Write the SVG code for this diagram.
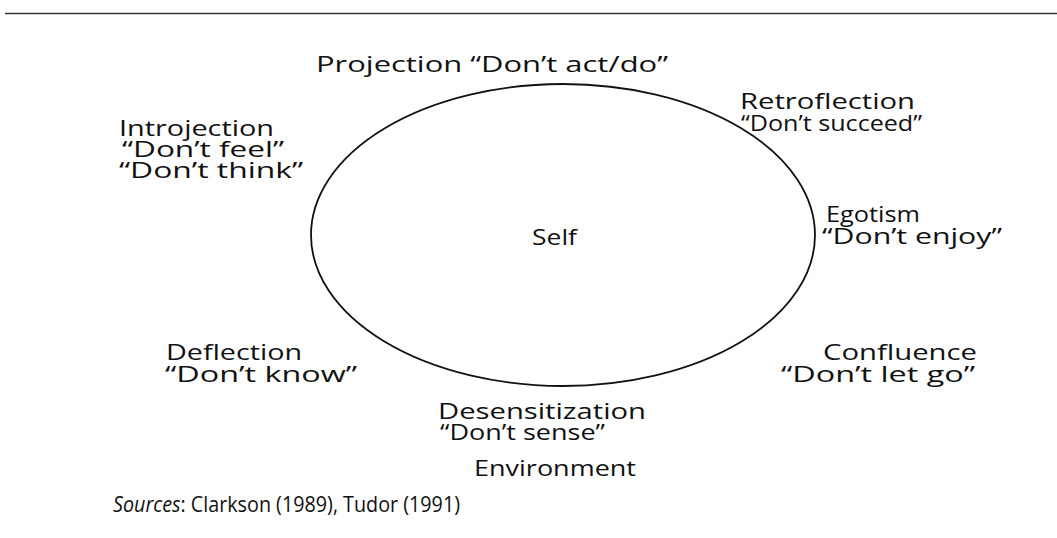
<svg xmlns="http://www.w3.org/2000/svg" width="1057" height="538" viewBox="0 0 1057 538">
<style>
text{font-family:"Open Sans","DejaVu Sans",sans-serif;font-size:22.5px;fill:#111;}
.it{font-style:italic;}
</style>
<rect width="1057" height="538" fill="#fff"/>
<line x1="5" y1="13.5" x2="1057" y2="13.5" stroke="#333" stroke-width="1.5"/>
<g id="self">
<ellipse cx="563" cy="235" rx="252" ry="151" fill="none" stroke="#111" stroke-width="1.8"/>
<text x="532" y="245" textLength="45" lengthAdjust="spacingAndGlyphs">Self</text>
</g>
<g id="projection"><text x="316" y="72" textLength="352" lengthAdjust="spacingAndGlyphs">Projection “Don’t act/do”</text></g>
<g id="retroflection"><text x="740" y="109" textLength="175" lengthAdjust="spacingAndGlyphs">Retroflection</text><text x="741" y="131" textLength="181" lengthAdjust="spacingAndGlyphs">“Don’t succeed”</text></g>
<g id="introjection"><text x="119" y="136" textLength="155" lengthAdjust="spacingAndGlyphs">Introjection</text><text x="122" y="157" textLength="162" lengthAdjust="spacingAndGlyphs">“Don’t feel”</text><text x="119" y="178" textLength="184" lengthAdjust="spacingAndGlyphs">“Don’t think”</text></g>
<g id="egotism"><text x="826" y="222" textLength="94" lengthAdjust="spacingAndGlyphs">Egotism</text><text x="822" y="244" textLength="180" lengthAdjust="spacingAndGlyphs">“Don’t enjoy”</text></g>
<g id="deflection"><text x="166" y="360" textLength="136" lengthAdjust="spacingAndGlyphs">Deflection</text><text x="165" y="382" textLength="192" lengthAdjust="spacingAndGlyphs">“Don’t know”</text></g>
<g id="confluence"><text x="823" y="360" textLength="154" lengthAdjust="spacingAndGlyphs">Confluence</text><text x="781" y="382" textLength="194" lengthAdjust="spacingAndGlyphs">“Don’t let go”</text></g>
<g id="desensitization"><text x="438" y="419" textLength="208" lengthAdjust="spacingAndGlyphs">Desensitization</text><text x="440" y="440" textLength="165" lengthAdjust="spacingAndGlyphs">“Don’t sense”</text></g>
<g id="environment"><text x="474" y="476" textLength="162" lengthAdjust="spacingAndGlyphs">Environment</text></g>
<text x="113" y="512" textLength="347" lengthAdjust="spacingAndGlyphs"><tspan class="it">Sources</tspan>: Clarkson (1989), Tudor (1991)</text>
<g id="connectors"/>
</svg>
